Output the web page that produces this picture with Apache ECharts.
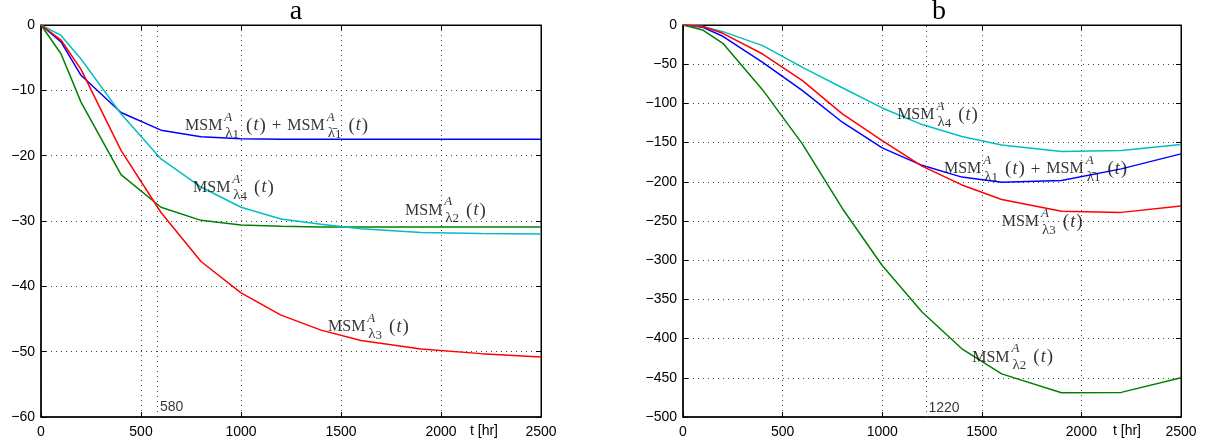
<!DOCTYPE html>
<html>
<head>
<meta charset="utf-8">
<script src="https://cdn.jsdelivr.net/npm/echarts@6/dist/echarts.min.js"></script>
<style>html,body{margin:0;padding:0;background:#fff}#c{width:1208px;height:446px}</style>
</head>
<body>
<div id="c"></div>
<script>
// time points [hr]
const tHours = [0, 100, 200, 400, 600, 800, 1000, 1200, 1400, 1600, 1900, 2200, 2500];
const xTicks = [0, 500, 1000, 1500, 2000, 2500];

// Panel a
const aLambda1 = [0, -2.6, -7.7, -13.4, -16.1, -17.1, -17.4, -17.5, -17.5, -17.5, -17.5, -17.5, -17.5];
const aLambda2 = [0, -4.4, -11.8, -22.9, -27.9, -29.9, -30.6, -30.8, -30.9, -30.9, -30.9, -30.9, -30.9];
const aLambda3 = [0, -2.3, -6.8, -19.2, -28.7, -36.2, -41.0, -44.4, -46.7, -48.3, -49.6, -50.3, -50.8];
const aLambda4 = [0, -1.6, -5.2, -13.6, -20.5, -24.8, -27.9, -29.7, -30.5, -31.2, -31.75, -31.9, -32.0];
const aMarker = 580;

// Panel b
const bLambda1 = [0, -3, -14.4, -47.6, -83.7, -124, -156.8, -179, -194, -200.5, -198.4, -183.5, -164.4];
const bLambda2 = [0, -6.4, -23.4, -82.8, -152, -234, -306.7, -366, -413, -445, -469, -468.6, -450];
const bLambda3 = [0, -2, -10.6, -37, -71, -113.4, -147.4, -180, -204, -222.6, -237.5, -239, -231];
const bLambda4 = [0, -2, -8.5, -26.3, -54, -80, -105.8, -127, -142.3, -153, -161.4, -160, -152.5];
const bMarker = 1220;

const titles = ['a', 'b'];
const xName = 't [hr]';

const colors = {l1: '#0000ff', l2: '#008000', l3: '#ff0000', l4: '#00bfbf'};

const L1 = '{m|MSM}{sup|A}{l|λ}{n|1}{p|(}{i|t}{q|)}{pl|+}{m|MSM}{sup|A}{l|λ̄}{n|1}{p|(}{i|t}{q|)}';
const Lk = k => '{m|MSM}{sup|A}{l|λ}{n|' + k + '}{p|(}{i|t}{q|)}';

// label anchors (data coordinates of label's left-middle)
const aLabels = [[720, -15.4, L1], [760, -24.9, Lk(4)], [1820, -28.4, Lk(2)], [1435, -46.2, Lk(3)]];
const bLabels = [[1075, -114.5, Lk(4)], [1310, -184, L1], [1600, -251.5, Lk(3)], [1452, -424, Lk(2)]];

const serif = 'Liberation Serif';
const rich = {
  m: {fontFamily: serif, fontSize: 16, color: '#000', lineHeight: 30, verticalAlign: 'middle'},
  pl: {fontFamily: serif, fontSize: 17, color: '#000', lineHeight: 30, verticalAlign: 'middle', padding: [0, 6, 0, 6]},
  p: {fontFamily: serif, fontSize: 19, color: '#000', lineHeight: 30, verticalAlign: 'middle', padding: [0, 0, 0, 7]},
  q: {fontFamily: serif, fontSize: 19, color: '#000', lineHeight: 30, verticalAlign: 'middle'},
  i: {fontFamily: serif, fontStyle: 'italic', fontSize: 18, color: '#000', lineHeight: 30, verticalAlign: 'middle', padding: [0, 1, 0, 1]},
  sup: {fontFamily: serif, fontStyle: 'italic', fontSize: 13, color: '#000', lineHeight: 13, verticalAlign: 'top', width: 0, padding: [0, 0, 0, 2]},
  l: {fontFamily: serif, fontSize: 15, color: '#000', lineHeight: 19, verticalAlign: 'bottom', padding: [0, 0, 0, 1]},
  n: {fontFamily: serif, fontSize: 13, color: '#000', lineHeight: 13, verticalAlign: 'bottom'}
};

const minus = v => (v < 0 ? '\u2212' + (-v) : String(v));

function xAxes(g) {
  return [{
    gridIndex: g, type: 'value', min: 0, max: 2500, interval: 500,
    axisLine: {onZero: false, lineStyle: {color: '#000', width: 1.5}},
    axisTick: {inside: true, length: 5, lineStyle: {color: '#000'}},
    axisLabel: {color: '#000', fontSize: 14, fontFamily: 'Liberation Sans', margin: 8, formatter: v => String(v)},
    splitLine: {show: true, lineStyle: {color: '#444', type: [1, 4], width: 1}}
  }, {
    gridIndex: g, type: 'value', min: 0, max: 2500, interval: 500, position: 'top',
    axisLine: {onZero: false, lineStyle: {color: '#000', width: 1}},
    axisTick: {inside: true, length: 5, lineStyle: {color: '#000'}},
    axisLabel: {show: false}, splitLine: {show: false}
  }];
}
function yAxes(g, min, interval) {
  return [{
    gridIndex: g, type: 'value', min: min, max: 0, interval: interval,
    axisLine: {onZero: false, lineStyle: {color: '#000', width: 1.5}},
    axisTick: {inside: true, length: 5, lineStyle: {color: '#000'}},
    axisLabel: {color: '#000', fontSize: 14, fontFamily: 'Liberation Sans', margin: 6, formatter: minus},
    splitLine: {show: true, lineStyle: {color: '#444', type: [1, 4], width: 1}}
  }, {
    gridIndex: g, type: 'value', min: min, max: 0, interval: interval, position: 'right',
    axisLine: {onZero: false, lineStyle: {color: '#000', width: 1}},
    axisTick: {inside: true, length: 5, lineStyle: {color: '#000'}},
    axisLabel: {show: false}, splitLine: {show: false}
  }];
}

function line(name, vals, color, xi, yi, marker) {
  const s = {
    name: name, type: 'line', xAxisIndex: xi, yAxisIndex: yi,
    data: tHours.map((t, i) => [t, vals[i]]),
    showSymbol: false, symbol: 'none',
    lineStyle: {color: color, width: 1.5}, z: 3
  };
  if (marker !== undefined) {
    s.markLine = {
      silent: true, symbol: 'none', animation: false,
      label: {show: false},
      lineStyle: {color: '#444', type: [1, 4], width: 1},
      data: [{xAxis: marker}]
    };
  }
  return s;
}
function labels(list, xi, yi) {
  return {
    type: 'scatter', xAxisIndex: xi, yAxisIndex: yi, symbolSize: 0, silent: true, z: 10,
    data: list.map(d => ({value: [d[0], d[1]], label: {formatter: d[2]}})),
    label: {show: true, position: 'right', distance: 0, rich: rich}
  };
}
function markerText(x, y, txt, xi, yi) {
  return {
    type: 'scatter', xAxisIndex: xi, yAxisIndex: yi, symbolSize: 0, silent: true, z: 10,
    data: [{value: [x, y], label: {formatter: txt}}],
    label: {show: true, position: 'right', distance: 0, color: '#000', fontSize: 14, fontFamily: 'Liberation Sans'}
  };
}

const chart = echarts.init(document.getElementById('c'), null, {renderer: 'canvas'});
chart.setOption({
  animation: false,
  backgroundColor: '#fff',
  title: [
    {text: titles[0], left: 291, top: -7, textAlign: 'center', textStyle: {fontFamily: serif, fontSize: 28, fontWeight: 'normal', color: '#000'}},
    {text: titles[1], left: 934, top: -7, textAlign: 'center', textStyle: {fontFamily: serif, fontSize: 28, fontWeight: 'normal', color: '#000'}}
  ],
  grid: [
    {left: 41, right: 667, top: 25, bottom: 29, show: true, borderColor: '#000', borderWidth: 1, backgroundColor: 'transparent'},
    {left: 683, right: 27, top: 25, bottom: 29, show: true, borderColor: '#000', borderWidth: 1, backgroundColor: 'transparent'}
  ],
  xAxis: [...xAxes(0), ...xAxes(1)],
  yAxis: [...yAxes(0, -60, 10), ...yAxes(1, -500, 50)],
  graphic: [
    {type: 'text', left: 470, top: 424, style: {text: xName, fill: '#000', font: '14px "Liberation Sans"'}},
    {type: 'text', left: 1113, top: 424, style: {text: xName, fill: '#000', font: '14px "Liberation Sans"'}}
  ],
  series: [
    line('a1', aLambda1, colors.l1, 0, 0, aMarker),
    line('a2', aLambda2, colors.l2, 0, 0),
    line('a4', aLambda4, colors.l4, 0, 0),
    line('a3', aLambda3, colors.l3, 0, 0),
    labels(aLabels, 0, 0),
    markerText(595, -58.5, String(aMarker), 0, 0),
    line('b1', bLambda1, colors.l1, 2, 2, bMarker),
    line('b2', bLambda2, colors.l2, 2, 2),
    line('b4', bLambda4, colors.l4, 2, 2),
    line('b3', bLambda3, colors.l3, 2, 2),
    labels(bLabels, 2, 2),
    markerText(1232, -488.5, String(bMarker), 2, 2)
  ]
});
</script>
</body>
</html>
